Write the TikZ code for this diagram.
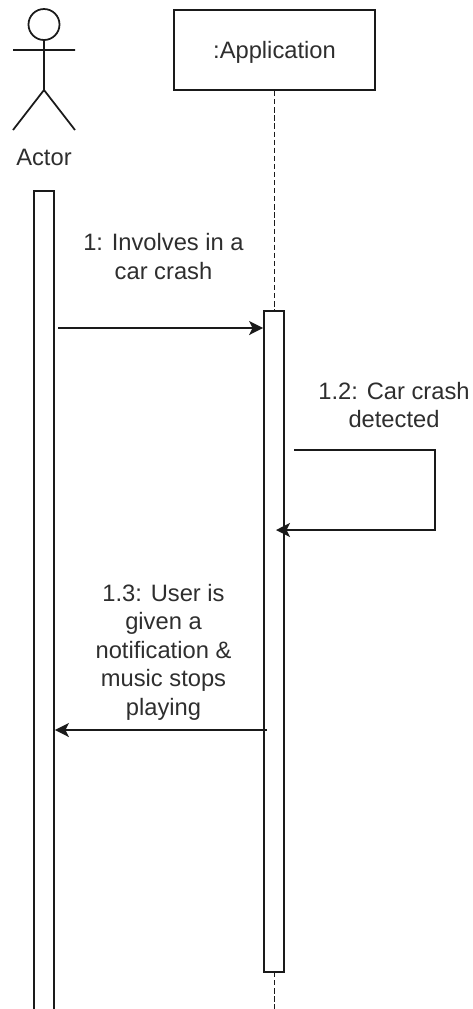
\documentclass[tikz,border=0pt]{standalone}
\usepackage{fontspec}
\setmainfont{Liberation Sans}
\usetikzlibrary{arrows.meta,positioning}
\definecolor{ink}{HTML}{1A1A1A}
\definecolor{labelgray}{HTML}{2E2E2E}
\tikzset{
  lifebox/.style={
    rectangle, draw=ink, fill=white, line width=1pt, text depth=0pt,
    font=\fontsize{13.5pt}{16pt}\selectfont, text=labelgray, align=center
  },
  activebar/.style={
    rectangle, draw=ink, fill=white, line width=1pt,
    minimum width=0.4cm, anchor=north, inner sep=0pt
  },
  msgarrow/.style={
    -{Stealth[length=8pt,width=8pt,inset=2pt]}, line width=1pt, color=ink
  },
  msglabel/.style={
    font=\fontsize{13.5pt}{16.2pt}\selectfont, text=labelgray, align=center, inner sep=0pt
  },
  actorline/.style={draw=ink, line width=1pt},
}
\begin{document}
\begin{tikzpicture}[x=0.02cm,y=-0.02cm]
    \useasboundingbox (0,0) rectangle (473,1009);
    % lifeline
    \node[lifebox, minimum width=201*0.02cm, minimum height=80.5*0.02cm] (app) at (274.5,50) {:Application};
    \coordinate (append) at (274.5,1009);
    \draw[line width=1pt, color=ink, dash pattern=on 3pt off 1.6pt] (app.south) -- (append);
    % actor
    \node[circle, actorline, minimum size=31*0.02cm, inner sep=0pt] (head) at (44,24.5) {};
    \coordinate (hip) at (44,90);
    \coordinate (armL) at (13,50);
    \coordinate (armR) at (75,50);
    \coordinate (footL) at (13,130);
    \coordinate (footR) at (75,130);
    \draw[actorline] (head.south) -- (hip) (armL) -- (armR) (footL) -- (hip) -- (footR);
    \node[msglabel] (actor) at (44,157) {Actor};
    % bars
    \node[activebar, minimum height=825*0.02cm] (actorbar) at (44,190) {};
    \node[activebar, minimum height=661*0.02cm] (appbar) at (274,310) {};
    % messages
    \coordinate (m1) at (58,328);
    \draw[msgarrow] (m1) -- (m1 -| appbar.west);
    \node[msglabel] (l1) at (163.5,256.5) {1: Involves in a\\car crash};
    \coordinate (m2a) at (294,450);
    \coordinate (m2b) at (435,450);
    \coordinate (m2c) at (435,530);
    \coordinate (m2d) at (276,530);
    \draw[msgarrow] (m2a) -- (m2b) -- (m2c) -- (m2d);
    \node[msglabel] (l2) at (394,405) {1.2: Car crash\\detected};
    \coordinate (m3) at (267,730);
    \draw[msgarrow] (m3) -- (m3 -| actorbar.east);
    \node[msglabel] (l3) at (163.5,652) {1.3: User is\\given a\\notification \&\\music stops\\playing};
\end{tikzpicture}
\end{document}
